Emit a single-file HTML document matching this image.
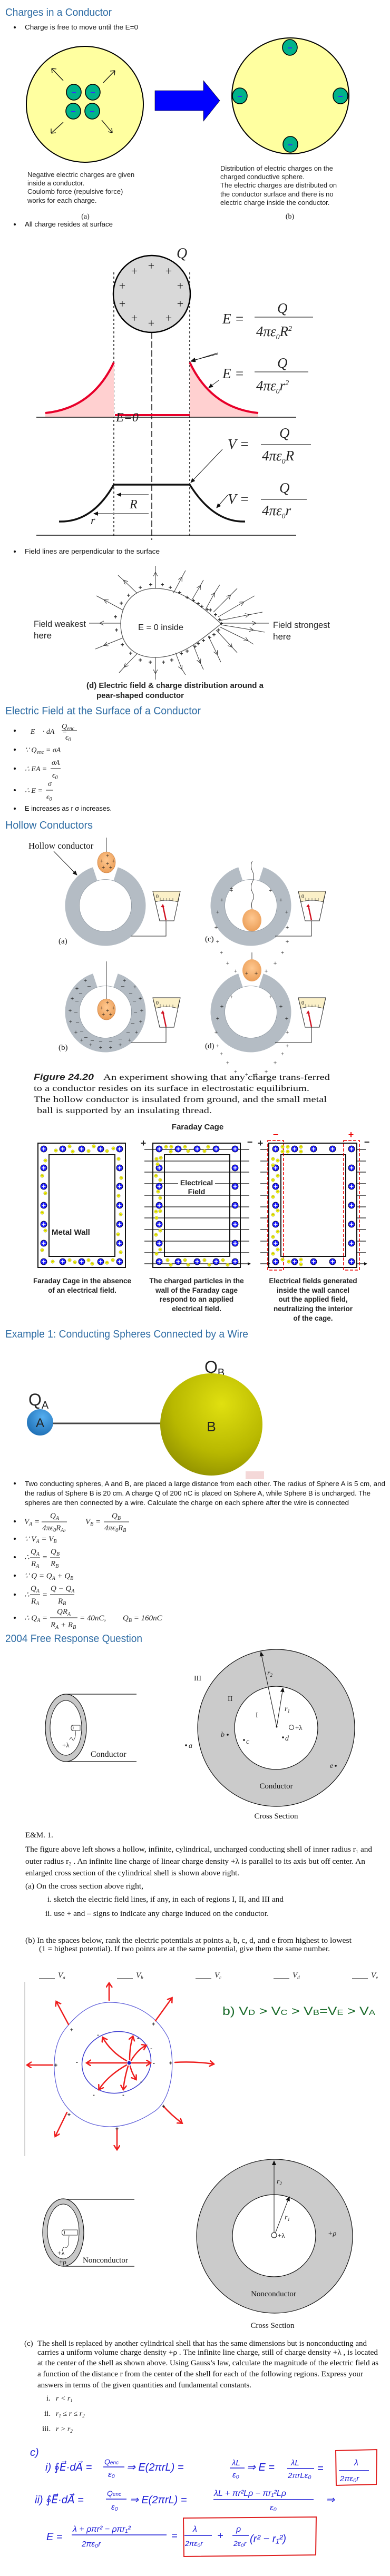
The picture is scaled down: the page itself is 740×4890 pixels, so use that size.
<!DOCTYPE html>
<html><head><meta charset="utf-8">
<style>
html,body{margin:0;padding:0;background:#fff;}
svg{display:block;}
.h{font-family:"Liberation Sans",sans-serif;font-size:20px;fill:#2e6ca4;}
.b{font-family:"Liberation Sans",sans-serif;font-size:12.5px;fill:#111;}
.s{font-family:"Liberation Serif",serif;fill:#111;}
.m{font-family:"Liberation Serif",serif;font-style:italic;fill:#222;}
.a{font-family:"Liberation Sans",sans-serif;fill:#222;}
.hw{font-family:"Liberation Sans",sans-serif;fill:#1a1ad6;font-style:italic;}
</style></head><body>
<svg width="740" height="4890" viewBox="0 0 740 4890" xmlns="http://www.w3.org/2000/svg">
<defs>
<marker id="oa" markerWidth="10" markerHeight="10" refX="7" refY="4" orient="auto" markerUnits="userSpaceOnUse"><path d="M0,0 L8,4 L0,8" fill="none" stroke="#333" stroke-width="1"/></marker>
<marker id="fa" markerWidth="10" markerHeight="10" refX="8" refY="4" orient="auto" markerUnits="userSpaceOnUse"><path d="M0,0 L9,4 L0,8 z" fill="#111"/></marker>
<marker id="ra" markerWidth="14" markerHeight="14" refX="8" refY="6" orient="auto" markerUnits="userSpaceOnUse"><path d="M0,0 L9,6 L0,12" fill="none" stroke="#ee1c1c" stroke-width="2.5"/></marker>
<marker id="dt" markerWidth="6" markerHeight="6" refX="3" refY="3" orient="auto" markerUnits="userSpaceOnUse"><path d="M0,0 L6,3 L0,6z" fill="#111"/></marker>
<g id="pc"><circle r="6" fill="#1a1aff" stroke="#000" stroke-width="0.8"/><path d="M-3.5,0H3.5M0,-3.5V3.5" stroke="#fff" stroke-width="1.6"/></g>
<g id="nc"><circle r="3.2" fill="#ffff00" stroke="#777" stroke-width="0.5"/><path d="M-1.5,0H1.5" stroke="#333" stroke-width="0.7"/></g>
<g id="tc"><ellipse rx="14" ry="15" fill="#00b38a" stroke="#000" stroke-width="1.6"/><path d="M-4,1H4" stroke="#3030ff" stroke-width="2"/></g>
<radialGradient id="gB" cx="0.6" cy="0.3" r="0.8"><stop offset="0" stop-color="#e0e010"/><stop offset="0.6" stop-color="#b8b800"/><stop offset="1" stop-color="#8a8a00"/></radialGradient>
<radialGradient id="gA" cx="0.6" cy="0.3" r="0.8"><stop offset="0" stop-color="#55aef0"/><stop offset="1" stop-color="#1a6ab0"/></radialGradient>
<radialGradient id="gO" cx="0.5" cy="0.4" r="0.7"><stop offset="0" stop-color="#ffc890"/><stop offset="1" stop-color="#e89850"/></radialGradient>
<g id="meter"><path d="M0,0 L52,0 L40,56 L13,56 Z" fill="#fff" stroke="#222" stroke-width="1"/><path d="M0,0 L52,0 L47,20 Q26,14 5,20 Z" fill="#fbf0c8" stroke="#222" stroke-width="0.8"/><text x="6" y="13" class="s" font-size="10">0</text><path d="M14,12V19M20,13V18M26,13V18M32,13V18M38,13V19" stroke="#444" stroke-width="0.7"/><path d="M25,55 L19,27" stroke="#d01020" stroke-width="2.5"/><path d="M15,30 L19,24 L22,30z" fill="#d01020"/></g>
</defs>

<!-- SECTION 1 -->
<text x="10" y="30" class="h" textLength="202" lengthAdjust="spacingAndGlyphs">Charges in a Conductor</text>
<circle cx="28" cy="52" r="2" fill="#111"/>
<text x="47" y="56" class="b" textLength="215" lengthAdjust="spacingAndGlyphs">Charge is free to move until the E=0</text>
<ellipse cx="161" cy="198" rx="111" ry="110" fill="#ffffa0" stroke="#000" stroke-width="2"/>
<use href="#tc" x="140" y="175"/><use href="#tc" x="176" y="175"/><use href="#tc" x="139" y="211"/><use href="#tc" x="175" y="211"/>
<g stroke="#111" stroke-width="1.3" fill="none">
<path d="M120,153 L98,130 M98,130 l9,1 M98,130 l1,9"/>
<path d="M196,157 L218,134 M218,134 l-9,1 M218,134 l-1,9"/>
<path d="M120,232 L97,253 M97,253 l9,-1 M97,253 l0,-9"/>
<path d="M193,228 L213,252 M213,252 l-1,-9 M213,252 l-8,-2"/>
</g>
<path d="M294,172 L386,172 L386,153 L417,191 L386,230 L386,210 L294,210 Z" fill="#0000ff" stroke="#000" stroke-width="0.6"/>
<ellipse cx="551" cy="182" rx="111" ry="110" fill="#ffffa0" stroke="#000" stroke-width="2"/>
<use href="#tc" x="550" y="90"/><use href="#tc" x="455" y="182"/><use href="#tc" x="646" y="182"/><use href="#tc" x="551" y="274"/>
<g class="a" font-size="13">
<text x="52" y="336">Negative electric charges are given</text>
<text x="52" y="352">inside a conductor.</text>
<text x="52" y="368">Coulomb force (repulsive force)</text>
<text x="52" y="385">works for each charge.</text>
<text x="418" y="324">Distribution of electric charges on the</text>
<text x="418" y="340">charged conductive sphere.</text>
<text x="418" y="356">The electric charges are distributed on</text>
<text x="418" y="373">the conductor surface and there is no</text>
<text x="418" y="389">electric charge inside the conductor.</text>
</g>
<text x="162" y="415" class="s" font-size="14" text-anchor="middle">(a)</text>
<text x="550" y="415" class="s" font-size="14" text-anchor="middle">(b)</text>

<!-- SECTION 2 -->
<circle cx="28" cy="426" r="2" fill="#111"/>
<text x="47" y="430" class="b" textLength="167" lengthAdjust="spacingAndGlyphs">All charge resides at surface</text>
<g stroke="#111" stroke-width="1.5" stroke-dasharray="4,4"><path d="M216,517V1020M360,517V1020"/></g>
<path d="M288,631V1025" stroke="#111" stroke-width="1.5" stroke-dasharray="12,5"/>
<ellipse cx="288" cy="558" rx="73" ry="73" fill="#d9d9d9" stroke="#000" stroke-width="2.5"/>
<g class="s" font-size="22" text-anchor="middle">
<text x="287" y="512">+</text><text x="255" y="522">+</text><text x="320" y="522">+</text><text x="232" y="550">+</text><text x="342" y="550">+</text><text x="232" y="584">+</text><text x="342" y="584">+</text><text x="255" y="611">+</text><text x="320" y="611">+</text><text x="287" y="621">+</text>
</g>
<text x="335" y="490" class="m" font-size="28">Q</text>
<path d="M86,784 Q175,775 216,688 L216,792 L86,792 Z" fill="#ffd0d0"/>
<path d="M490,784 Q401,775 360,688 L360,792 L490,792 Z" fill="#ffd0d0"/>
<path d="M86,784 Q175,775 216,688 M490,784 Q401,775 360,688 M218,788 H360" stroke="#e8002a" stroke-width="4" fill="none"/>
<path d="M69,792 H562 M69,1016 H562" stroke="#111" stroke-width="1.5"/>
<text x="220" y="800" class="m" font-size="24">E=0</text>
<g class="m" font-size="27">
<text x="422" y="614">E =</text><text x="526" y="594">Q</text><text x="486" y="638">4πε<tspan font-size="14" dy="6">0</tspan><tspan dy="-6">R</tspan><tspan font-size="14" dy="-10">2</tspan></text>
<text x="422" y="718">E =</text><text x="526" y="698">Q</text><text x="486" y="741">4πε<tspan font-size="14" dy="6">0</tspan><tspan dy="-6">r</tspan><tspan font-size="14" dy="-10">2</tspan></text>
<text x="432" y="852">V =</text><text x="530" y="831">Q</text><text x="497" y="874">4πε<tspan font-size="14" dy="6">0</tspan><tspan dy="-6">R</tspan></text>
<text x="432" y="956">V =</text><text x="530" y="935">Q</text><text x="497" y="978">4πε<tspan font-size="14" dy="6">0</tspan><tspan dy="-6">r</tspan></text>
</g>
<path d="M483,602H594 M483,706H585 M495,844H590 M495,948H582" stroke="#555" stroke-width="1.5"/>
<g stroke="#111" stroke-width="1" marker-end="url(#fa)"><path d="M413,672 L363,685" transform="rotate(0)"/></g>
<path d="M413,670 L362,686" stroke="#111" stroke-width="1" marker-end="url(#fa)"/>
<path d="M415,722 L396,736" stroke="#111" stroke-width="1" marker-end="url(#fa)"/>
<path d="M422,853 L362,916" stroke="#111" stroke-width="1" marker-end="url(#fa)"/>
<path d="M432,940 L411,964" stroke="#111" stroke-width="1" marker-end="url(#fa)"/>
<path d="M112,990 Q175,992 216,920 H360 Q405,992 465,990" stroke="#111" stroke-width="3.5" fill="none"/>
<path d="M282,939 H222" stroke="#888" stroke-width="2" marker-end="url(#fa)"/>
<path d="M282,975 H178" stroke="#888" stroke-width="2" marker-end="url(#fa)"/>
<text x="246" y="965" class="m" font-size="24">R</text>
<text x="172" y="995" class="m" font-size="22">r</text>

<!-- SECTION 3 -->
<circle cx="28" cy="1047" r="2" fill="#111"/>
<text x="47" y="1051" class="b" textLength="256" lengthAdjust="spacingAndGlyphs">Field lines are perpendicular to the surface</text>
<path d="M420,1184 C380,1150 345,1117 295,1117 C250,1117 229,1150 229,1185 C229,1220 250,1248 295,1248 C345,1248 380,1215 420,1184 Z" fill="#fff" stroke="#555" stroke-width="1.3"/>
<g stroke="#333" stroke-width="1" fill="none" marker-mid="url(#oa)">
<polyline points="295,1117 295,1087 295,1074"/>
<polyline points="260,1126 235,1102 224,1092"/>
<polyline points="233,1158 198,1139 183,1131"/>
<polyline points="229,1183 190,1183 169,1183"/>
<polyline points="233,1211 198,1225 181,1232"/>
<polyline points="260,1241 236,1266 226,1277"/>
<polyline points="295,1248 295,1278 295,1290"/>
<polyline points="329,1126 345,1096 352,1083"/>
<polyline points="364,1139 380,1112 386,1101"/>
<polyline points="390,1157 407,1126 417,1110"/>
<polyline points="405,1162 437,1130 450,1117"/>
<polyline points="414,1171 462,1143 483,1131"/>
<polyline points="417,1178 472,1167 498,1162"/>
<polyline points="419,1183 485,1183 510,1183"/>
<polyline points="419,1186 480,1196 502,1200"/>
<polyline points="417,1190 470,1216 481,1223"/>
<polyline points="410,1196 440,1228 450,1239"/>
<polyline points="395,1207 412,1242 419,1257"/>
<polyline points="367,1225 380,1258 386,1271"/>
<polyline points="333,1239 345,1270 352,1281"/>
</g>
<g class="a" font-size="12" font-weight="bold" text-anchor="middle">
<text x="266" y="1119">+</text><text x="286" y="1114">+</text><text x="308" y="1114">+</text><text x="323" y="1119">+</text><text x="244" y="1134">+</text><text x="230" y="1149">+</text><text x="219" y="1175">+</text><text x="221" y="1200">+</text><text x="232" y="1228">+</text><text x="248" y="1244">+</text><text x="266" y="1257">+</text><text x="285" y="1261">+</text><text x="310" y="1261">+</text><text x="326" y="1257">+</text><text x="341" y="1129">+</text><text x="355" y="1138">+</text><text x="367" y="1144">+</text><text x="376" y="1150">+</text><text x="383" y="1155">+</text><text x="393" y="1161">+</text><text x="399" y="1162">+</text><text x="409" y="1171">+</text><text x="417" y="1180">+</text><text x="420" y="1188">+</text><text x="415" y="1200">+</text><text x="406" y="1209">+</text><text x="398" y="1214">+</text><text x="386" y="1220">+</text><text x="376" y="1226">+</text><text x="370" y="1231">+</text><text x="355" y="1240">+</text><text x="344" y="1245">+</text>
</g>
<g class="a" font-size="17">
<text x="64" y="1190" textLength="99" lengthAdjust="spacingAndGlyphs">Field weakest</text><text x="64" y="1212">here</text>
<text x="518" y="1192" textLength="108" lengthAdjust="spacingAndGlyphs">Field strongest</text><text x="518" y="1214">here</text>
<text x="262" y="1196" font-size="16" textLength="86" lengthAdjust="spacingAndGlyphs">E = 0 inside</text>
</g>
<g class="a" font-size="14.5" font-weight="bold">
<text x="164" y="1306" textLength="336" lengthAdjust="spacingAndGlyphs">(d) Electric field &amp; charge distribution around a</text>
<text x="183" y="1325" textLength="166" lengthAdjust="spacingAndGlyphs">pear-shaped conductor</text>
</g>
<text x="10" y="1356" class="h" textLength="371" lengthAdjust="spacingAndGlyphs">Electric Field at the Surface of a Conductor</text>
<g fill="#111"><circle cx="28" cy="1387" r="2"/><circle cx="28" cy="1423" r="2"/><circle cx="28" cy="1459" r="2"/><circle cx="28" cy="1500" r="2"/><circle cx="28" cy="1535" r="2"/></g>
<g class="m" font-size="14">
<text x="47" y="1393">∮<tspan>E⃗ · dA⃗ =</tspan></text>
<text x="117" y="1383">Q<tspan font-size="10" dy="3">enc</tspan></text><path d="M117,1387H146" stroke="#222"/><text x="124" y="1404">ϵ<tspan font-size="10" dy="3">0</tspan></text>
<text x="47" y="1428">∵ Q<tspan font-size="10" dy="3">enc</tspan><tspan dy="-3"> = σA</tspan></text>
<text x="47" y="1464">∴ EA =</text><text x="98" y="1452">σA</text><path d="M96,1459H115" stroke="#222"/><text x="99" y="1476">ϵ<tspan font-size="10" dy="3">0</tspan></text>
<text x="47" y="1505">∴ E =</text><text x="91" y="1492">σ</text><path d="M87,1500H101" stroke="#222"/><text x="88" y="1517">ϵ<tspan font-size="10" dy="3">0</tspan></text>
</g>
<text x="47" y="1539" class="b" textLength="165" lengthAdjust="spacingAndGlyphs">E increases as r σ increases.</text>
<text x="10" y="1573" class="h" textLength="166" lengthAdjust="spacingAndGlyphs">Hollow Conductors</text>

<!-- SECTION 4: hollow conductors -->
<g fill="none" stroke="#b4bcc4" stroke-width="27" stroke-dasharray="356 40">
<circle cx="200" cy="1719" r="63" transform="rotate(-72 200 1719)"/>
<circle cx="476" cy="1719" r="63" transform="rotate(-72 476 1719)"/>
<circle cx="200" cy="1921" r="63" transform="rotate(-72 200 1921)"/>
<circle cx="476" cy="1921" r="63" transform="rotate(-72 476 1921)"/>
</g>
<g fill="none" stroke="#8c959e" stroke-width="0.8">
<circle cx="200" cy="1719" r="49.5"/><circle cx="476" cy="1719" r="49.5"/><circle cx="200" cy="1921" r="49.5"/><circle cx="476" cy="1921" r="49.5"/>
</g>
<rect x="181" y="1636" width="38" height="24" fill="#fff"/><rect x="457" y="1636" width="38" height="24" fill="#fff"/><rect x="181" y="1838" width="38" height="24" fill="#fff"/><rect x="457" y="1838" width="38" height="24" fill="#fff"/>
<text x="54" y="1611" class="s" font-size="17">Hollow conductor</text>
<path d="M102,1616 L146,1661" stroke="#111" stroke-width="1" marker-end="url(#fa)"/>
<path d="M202,1590V1617 M202,1825V1896 M478,1808V1822" stroke="#111" stroke-width="0.8"/>
<path d="M479,1634 q-5,10 0,20 q5,10 0,20 q-5,10 0,20 q5,10 0,15 q-3,8 0,20" stroke="#111" stroke-width="0.8" fill="none"/>
<ellipse cx="202" cy="1637" rx="17" ry="20" fill="url(#gO)" stroke="#c07030" stroke-width="0.6"/>
<ellipse cx="202" cy="1916" rx="17" ry="20" fill="url(#gO)" stroke="#c07030" stroke-width="0.6"/>
<ellipse cx="478" cy="1747" rx="18" ry="21" fill="url(#gO)"/>
<ellipse cx="478" cy="1842" rx="18" ry="21" fill="url(#gO)"/>
<g class="s" font-size="12" text-anchor="middle">
<text x="204" y="1628">+</text><text x="193" y="1638">+</text><text x="204" y="1643">+</text><text x="215" y="1638">+</text><text x="196" y="1650">+</text><text x="210" y="1650">+</text>
<text x="204" y="1907">+</text><text x="193" y="1917">+</text><text x="204" y="1922">+</text><text x="215" y="1917">+</text><text x="196" y="1929">+</text><text x="210" y="1929">+</text>
</g>
<g class="s" font-size="12" text-anchor="middle" fill="#222">
<text x="439" y="1694">+</text><text x="421" y="1712">+</text><text x="413" y="1735">+</text><text x="410" y="1764">+</text><text x="413" y="1791">+</text><text x="420" y="1812">+</text><text x="432" y="1832">+</text><text x="447" y="1847">+</text><text x="468" y="1851">+</text><text x="486" y="1851">+</text><text x="505" y="1847">+</text><text x="522" y="1832">+</text><text x="536" y="1812">+</text><text x="545" y="1791">+</text><text x="545" y="1764">+</text><text x="544" y="1735">+</text><text x="533" y="1712">+</text><text x="513" y="1694">+</text>
</g>
<g class="s" font-size="12" text-anchor="middle">
<text x="439" y="1695" transform="translate(0,-5)">+</text>
<text x="516" y="1697" transform="translate(0,0)"> </text>
</g>
<g class="s" font-size="12" text-anchor="middle">
<text x="439" y="1896">+</text><text x="421" y="1914">+</text><text x="413" y="1937">+</text><text x="410" y="1963">+</text><text x="413" y="1989">+</text><text x="420" y="2004">+</text><text x="432" y="2021">+</text><text x="447" y="2038">+</text><text x="468" y="2043">+</text><text x="486" y="2043">+</text><text x="505" y="2038">+</text><text x="522" y="2021">+</text><text x="536" y="2004">+</text><text x="545" y="1989">+</text><text x="545" y="1963">+</text><text x="544" y="1937">+</text><text x="533" y="1914">+</text><text x="513" y="1896">+</text>
</g>
<g class="s" font-size="12" text-anchor="middle">
<text x="162" y="1865">+</text><text x="146" y="1880">+</text><text x="137" y="1899">+</text><text x="133" y="1922">+</text><text x="134" y="1943">+</text><text x="144" y="1963">+</text><text x="155" y="1978">+</text><text x="172" y="1987">+</text><text x="191" y="1992">+</text><text x="210" y="1992">+</text><text x="228" y="1987">+</text><text x="246" y="1978">+</text><text x="259" y="1963">+</text><text x="267" y="1943">+</text><text x="269" y="1922">+</text><text x="266" y="1899">+</text><text x="256" y="1877">+</text><text x="236" y="1865">+</text>
<text x="169" y="1875">–</text><text x="153" y="1888">–</text><text x="146" y="1903">–</text><text x="144" y="1924">–</text><text x="147" y="1943">–</text><text x="155" y="1960">–</text><text x="163" y="1972">–</text><text x="175" y="1978">–</text><text x="191" y="1980">–</text><text x="210" y="1980">–</text><text x="228" y="1975">–</text><text x="243" y="1962">–</text><text x="252" y="1945">–</text><text x="257" y="1924">–</text><text x="255" y="1903">–</text><text x="248" y="1888">–</text><text x="233" y="1875">–</text>
</g>
<use href="#meter" x="290" y="1692"/><use href="#meter" x="566" y="1692"/><use href="#meter" x="290" y="1894"/><use href="#meter" x="566" y="1894"/>
<path d="M315,1748V1777H248 M591,1748V1777H522 M315,1950V1979H248 M591,1950V1979H522" stroke="#222" stroke-width="1" fill="none"/>
<g class="s" font-size="15"><text x="111" y="1791">(a)</text><text x="389" y="1787">(c)</text><text x="111" y="1993">(b)</text><text x="389" y="1990">(d)</text></g>
<text x="64" y="2050" class="a" font-size="16.5" font-weight="bold" font-style="italic" textLength="114" lengthAdjust="spacingAndGlyphs">Figure 24.20</text>
<g class="s" font-size="16">
<text x="196" y="2050" textLength="430" lengthAdjust="spacingAndGlyphs">An experiment  showing that any charge trans-ferred</text>
<text x="64" y="2071" textLength="523" lengthAdjust="spacingAndGlyphs">to a conductor resides on its  surface in electrostatic equilibrium.</text>
<text x="64" y="2092" textLength="556" lengthAdjust="spacingAndGlyphs">The hollow conductor is insulated from ground, and the small metal</text>
<text x="70" y="2113" textLength="332" lengthAdjust="spacingAndGlyphs">ball is supported by an insulating thread.</text>
</g>
<text x="375" y="2144" class="a" font-size="15" font-weight="bold" text-anchor="middle">Faraday Cage</text>

<!-- Faraday cages -->
<g fill="none" stroke="#111" stroke-width="2">
<rect x="72" y="2170" width="166" height="236"/><rect x="93" y="2192" width="125" height="193"/>
<rect x="290" y="2170" width="166" height="236"/><rect x="312" y="2192" width="124" height="193"/>
<rect x="510" y="2170" width="167" height="236"/><rect x="533" y="2192" width="123" height="193"/>
</g>
<g stroke="#111" stroke-width="1.2" marker-end="url(#dt)">
<path d="M274,2182H473M274,2204H473M274,2225H473M274,2247H338M408,2247H473M274,2269H473M274,2291H473M274,2312H473M274,2334H473M274,2356H473M274,2378H473M274,2399H473"/>
<path d="M494,2182H510M494,2204H510M494,2225H510M494,2247H510M494,2269H510M494,2291H510M494,2312H510M494,2334H510M494,2356H510M494,2378H510M494,2399H510"/>
<path d="M677,2182H694M677,2204H694M677,2225H694M677,2247H694M677,2269H694M677,2291H694M677,2312H694M677,2334H694M677,2356H694M677,2378H694M677,2399H694"/>
</g>
<g class="a" font-size="14" font-weight="bold" text-anchor="middle"><text x="373" y="2143" opacity="0"> </text><text x="373" y="2143" opacity="0"> </text>
<text x="373" y="2142" opacity="0"> </text></g>
<rect x="338" y="2236" width="70" height="30" fill="#fff"/>
<g class="a" font-size="14" font-weight="bold" text-anchor="middle">
<text x="373" y="2250">Electrical</text><text x="373" y="2267">Field</text>
<text x="133" y="2205" opacity="0"> </text>
</g>
<text x="98" y="2344" class="a" font-size="15" font-weight="bold">Metal Wall</text>
<g class="a" font-size="18" font-weight="bold" text-anchor="middle">
<text x="272" y="2176">+</text><text x="474" y="2174">−</text><text x="494" y="2176">+</text><text x="696" y="2174">−</text>
<text x="523" y="2160" fill="#e00">−</text><text x="666" y="2160" fill="#e00">+</text>
</g>
<g fill="none" stroke="#e00" stroke-width="1.6" stroke-dasharray="6,3">
<rect x="508" y="2165" width="30" height="246"/><rect x="652" y="2165" width="30" height="246"/>
</g>
<!-- charges -->
<g>
<use href="#pc" x="83" y="2181"/><use href="#pc" x="119" y="2181"/><use href="#pc" x="155" y="2181"/><use href="#pc" x="191" y="2181"/><use href="#pc" x="227" y="2181"/>
<use href="#pc" x="83" y="2395"/><use href="#pc" x="119" y="2395"/><use href="#pc" x="155" y="2395"/><use href="#pc" x="191" y="2395"/><use href="#pc" x="227" y="2395"/>
<use href="#pc" x="83" y="2217"/><use href="#pc" x="83" y="2252"/><use href="#pc" x="83" y="2288"/><use href="#pc" x="83" y="2324"/><use href="#pc" x="83" y="2360"/>
<use href="#pc" x="227" y="2217"/><use href="#pc" x="227" y="2252"/><use href="#pc" x="227" y="2288"/><use href="#pc" x="227" y="2324"/><use href="#pc" x="227" y="2360"/>
<use href="#nc" x="106" y="2184"/><use href="#nc" x="132" y="2176"/><use href="#nc" x="138" y="2186"/><use href="#nc" x="168" y="2185"/><use href="#nc" x="178" y="2176"/><use href="#nc" x="203" y="2185"/><use href="#nc" x="215" y="2180"/><use href="#nc" x="86" y="2203"/><use href="#nc" x="80" y="2232"/><use href="#nc" x="86" y="2265"/><use href="#nc" x="80" y="2302"/><use href="#nc" x="86" y="2336"/><use href="#nc" x="80" y="2373"/><use href="#nc" x="225" y="2200"/><use href="#nc" x="230" y="2236"/><use href="#nc" x="225" y="2270"/><use href="#nc" x="229" y="2305"/><use href="#nc" x="224" y="2343"/><use href="#nc" x="229" y="2377"/><use href="#nc" x="100" y="2395"/><use href="#nc" x="132" y="2392"/><use href="#nc" x="142" y="2396"/><use href="#nc" x="168" y="2392"/><use href="#nc" x="175" y="2399"/><use href="#nc" x="203" y="2397"/><use href="#nc" x="214" y="2392"/>
<use href="#pc" x="302" y="2181"/><use href="#pc" x="338" y="2181"/><use href="#pc" x="374" y="2181"/><use href="#pc" x="410" y="2181"/><use href="#pc" x="446" y="2181"/>
<use href="#pc" x="302" y="2395"/><use href="#pc" x="338" y="2395"/><use href="#pc" x="374" y="2395"/><use href="#pc" x="410" y="2395"/><use href="#pc" x="446" y="2395"/>
<use href="#pc" x="302" y="2217"/><use href="#pc" x="302" y="2252"/><use href="#pc" x="302" y="2288"/><use href="#pc" x="302" y="2324"/><use href="#pc" x="302" y="2360"/>
<use href="#pc" x="446" y="2217"/><use href="#pc" x="446" y="2252"/><use href="#pc" x="446" y="2288"/><use href="#pc" x="446" y="2324"/><use href="#pc" x="446" y="2360"/>
<use href="#nc" x="315" y="2177"/><use href="#nc" x="325" y="2177"/><use href="#nc" x="324" y="2186"/><use href="#nc" x="351" y="2177"/><use href="#nc" x="357" y="2185"/><use href="#nc" x="388" y="2185"/><use href="#nc" x="395" y="2177"/><use href="#nc" x="297" y="2200"/><use href="#nc" x="305" y="2198"/><use href="#nc" x="299" y="2210"/><use href="#nc" x="296" y="2232"/><use href="#nc" x="304" y="2240"/><use href="#nc" x="300" y="2262"/><use href="#nc" x="304" y="2274"/><use href="#nc" x="296" y="2300"/><use href="#nc" x="304" y="2299"/><use href="#nc" x="297" y="2312"/><use href="#nc" x="304" y="2336"/><use href="#nc" x="296" y="2344"/><use href="#nc" x="304" y="2372"/><use href="#nc" x="297" y="2380"/><use href="#nc" x="318" y="2392"/><use href="#nc" x="324" y="2401"/><use href="#nc" x="351" y="2392"/><use href="#nc" x="357" y="2401"/><use href="#nc" x="388" y="2392"/><use href="#nc" x="397" y="2401"/><use href="#nc" x="423" y="2392"/><use href="#nc" x="432" y="2401"/>
<use href="#pc" x="523" y="2181"/><use href="#pc" x="559" y="2181"/><use href="#pc" x="595" y="2181"/><use href="#pc" x="631" y="2181"/><use href="#pc" x="667" y="2181"/>
<use href="#pc" x="523" y="2395"/><use href="#pc" x="559" y="2395"/><use href="#pc" x="595" y="2395"/><use href="#pc" x="631" y="2395"/><use href="#pc" x="667" y="2395"/>
<use href="#pc" x="523" y="2217"/><use href="#pc" x="523" y="2252"/><use href="#pc" x="523" y="2288"/><use href="#pc" x="523" y="2324"/><use href="#pc" x="523" y="2360"/>
<use href="#pc" x="667" y="2217"/><use href="#pc" x="667" y="2252"/><use href="#pc" x="667" y="2288"/><use href="#pc" x="667" y="2324"/><use href="#pc" x="667" y="2360"/>
<use href="#nc" x="536" y="2177"/><use href="#nc" x="536" y="2186"/><use href="#nc" x="546" y="2177"/><use href="#nc" x="546" y="2186"/><use href="#nc" x="571" y="2177"/><use href="#nc" x="571" y="2186"/><use href="#nc" x="518" y="2200"/><use href="#nc" x="527" y="2203"/><use href="#nc" x="518" y="2212"/><use href="#nc" x="527" y="2232"/><use href="#nc" x="518" y="2240"/><use href="#nc" x="527" y="2262"/><use href="#nc" x="518" y="2272"/><use href="#nc" x="527" y="2298"/><use href="#nc" x="518" y="2306"/><use href="#nc" x="527" y="2338"/><use href="#nc" x="518" y="2348"/><use href="#nc" x="527" y="2372"/><use href="#nc" x="518" y="2380"/><use href="#nc" x="536" y="2391"/><use href="#nc" x="548" y="2395"/><use href="#nc" x="571" y="2391"/><use href="#nc" x="571" y="2400"/>
</g>
<g class="a" font-size="13.5" font-weight="bold" text-anchor="middle">
<text x="156" y="2436">Faraday Cage in the absence</text><text x="156" y="2454">of an electrical field.</text>
<text x="373" y="2436">The charged particles in the</text><text x="373" y="2454">wall of the Faraday cage</text><text x="373" y="2471">respond to an applied</text><text x="373" y="2489">electrical field.</text>
<text x="594" y="2436">Electrical fields generated</text><text x="594" y="2454">inside the wall cancel</text><text x="594" y="2471">out the applied field,</text><text x="594" y="2489">neutralizing the interior</text><text x="594" y="2507">of the cage.</text>
</g>

<!-- Example 1 -->
<text x="10" y="2539" class="h" textLength="461" lengthAdjust="spacingAndGlyphs">Example 1: Conducting Spheres Connected by a Wire</text>
<text x="388" y="2606" class="a" font-size="32">Q<tspan font-size="20" dy="6">B</tspan></text>
<text x="54" y="2668" class="a" font-size="32">Q<tspan font-size="20" dy="6">A</tspan></text>
<path d="M100,2702H306" stroke="#444" stroke-width="3"/>
<circle cx="76" cy="2700" r="25" fill="url(#gA)"/>
<text x="76" y="2709" class="a" font-size="24" text-anchor="middle">A</text>
<ellipse cx="401" cy="2704" rx="97" ry="97" fill="url(#gB)"/>
<text x="401" y="2717" class="a" font-size="26" text-anchor="middle">B</text>
<rect x="466" y="2793" width="35" height="15" fill="#f4d8d8"/>
<circle cx="28" cy="2816" r="2" fill="#111"/>
<g class="b">
<text x="47" y="2821" textLength="684" lengthAdjust="spacingAndGlyphs">Two conducting spheres, A and B, are placed a large distance from each other. The radius of Sphere A is 5 cm, and</text>
<text x="47" y="2839" textLength="656" lengthAdjust="spacingAndGlyphs">the radius of Sphere B is 20 cm. A charge Q of 200 nC is placed on Sphere A, while Sphere B is uncharged. The</text>
<text x="47" y="2857" textLength="615" lengthAdjust="spacingAndGlyphs">spheres are then connected by a wire. Calculate the charge on each sphere after the wire is connected</text>
</g>
<g fill="#111"><circle cx="28" cy="2888" r="2"/><circle cx="28" cy="2921" r="2"/><circle cx="28" cy="2956" r="2"/><circle cx="28" cy="2991" r="2"/><circle cx="28" cy="3027" r="2"/><circle cx="28" cy="3071" r="2"/></g>
<g class="m" font-size="15">
<text x="46" y="2893">V<tspan font-size="10" dy="3">A</tspan><tspan dy="-3"> =</tspan></text>
<text x="95" y="2882">Q<tspan font-size="10" dy="3">A</tspan></text><path d="M79,2889H127" stroke="#222"/><text x="80" y="2905">4πϵ<tspan font-size="10" dy="3">0</tspan><tspan dy="-3">R</tspan><tspan font-size="10" dy="3">A</tspan><tspan dy="-3">,</tspan></text>
<text x="162" y="2893">V<tspan font-size="10" dy="3">B</tspan><tspan dy="-3"> =</tspan></text>
<text x="212" y="2882">Q<tspan font-size="10" dy="3">B</tspan></text><path d="M197,2889H245" stroke="#222"/><text x="198" y="2905">4πϵ<tspan font-size="10" dy="3">0</tspan><tspan dy="-3">R</tspan><tspan font-size="10" dy="3">B</tspan></text>
<text x="46" y="2926">∵ V<tspan font-size="10" dy="3">A</tspan><tspan dy="-3"> = V</tspan><tspan font-size="10" dy="3">B</tspan></text>
<text x="46" y="2961">∴</text><text x="58" y="2950">Q<tspan font-size="10" dy="3">A</tspan></text><path d="M57,2957H76" stroke="#222"/><text x="59" y="2973">R<tspan font-size="10" dy="3">A</tspan></text>
<text x="80" y="2961">=</text><text x="96" y="2950">Q<tspan font-size="10" dy="3">B</tspan></text><path d="M95,2957H114" stroke="#222"/><text x="96" y="2973">R<tspan font-size="10" dy="3">B</tspan></text>
<text x="46" y="2996">∵ Q = Q<tspan font-size="10" dy="3">A</tspan><tspan dy="-3"> + Q</tspan><tspan font-size="10" dy="3">B</tspan></text>
<text x="46" y="3032">∴</text><text x="58" y="3020">Q<tspan font-size="10" dy="3">A</tspan></text><path d="M57,3027H76" stroke="#222"/><text x="59" y="3044">R<tspan font-size="10" dy="3">A</tspan></text>
<text x="80" y="3032">=</text><text x="96" y="3020">Q − Q<tspan font-size="10" dy="3">A</tspan></text><path d="M95,3027H141" stroke="#222"/><text x="110" y="3044">R<tspan font-size="10" dy="3">B</tspan></text>
<text x="46" y="3076">∴ Q<tspan font-size="10" dy="3">A</tspan><tspan dy="-3"> =</tspan></text>
<text x="108" y="3064">QR<tspan font-size="10" dy="3">A</tspan></text><path d="M95,3071H147" stroke="#222"/><text x="96" y="3089">R<tspan font-size="10" dy="3">A</tspan><tspan dy="-3"> + R</tspan><tspan font-size="10" dy="3">B</tspan></text>
<text x="151" y="3076">= 40nC,</text>
<text x="233" y="3076">Q<tspan font-size="10" dy="3">B</tspan><tspan dy="-3"> = 160nC</tspan></text>
</g>
<text x="10" y="3117" class="h" textLength="260" lengthAdjust="spacingAndGlyphs">2004 Free Response Question</text>

<!-- FRQ figure 1 -->
<path d="M125,3216H259 M125,3344H259" stroke="#111" stroke-width="1.2"/>
<ellipse cx="125" cy="3280" rx="39" ry="64" fill="#c8c8c8" stroke="#111" stroke-width="1.2"/>
<ellipse cx="125" cy="3280" rx="30" ry="52" fill="#fff" stroke="#111" stroke-width="1"/>
<path d="M137,3275H152V3285H137" fill="#fff" stroke="#111" stroke-width="0.8"/><ellipse cx="137" cy="3280" rx="2" ry="5" fill="#fff" stroke="#111" stroke-width="0.8"/>
<path d="M132,3303 q3,-8 5,-2 q2,6 5,-2 q2,-5 1,-14" stroke="#111" stroke-width="0.7" fill="none"/>
<text x="118" y="3317" class="s" font-size="13">+λ</text>
<text x="172" y="3335" class="s" font-size="16">Conductor</text>
<circle cx="524" cy="3280" r="149" fill="#cbcbcb" stroke="#111" stroke-width="1.2"/>
<circle cx="524" cy="3280" r="79" fill="#fff" stroke="#111" stroke-width="1.2"/>
<path d="M525,3278 L495,3136" stroke="#111" stroke-width="1" marker-end="url(#fa)"/>
<path d="M525,3278 L537,3204" stroke="#111" stroke-width="1" marker-end="url(#fa)"/>
<circle cx="525" cy="3278" r="1.5" fill="#111"/>
<g class="m" font-size="14">
<text x="507" y="3180">r<tspan font-size="9" dy="3">2</tspan></text><text x="540" y="3248">r<tspan font-size="9" dy="3">1</tspan></text>
</g>
<g class="s" font-size="14"><text x="368" y="3190">III</text><text x="432" y="3229">II</text><text x="485" y="3260">I</text></g>
<circle cx="553" cy="3279" r="4.5" fill="#fff" stroke="#111"/><text x="560" y="3284" class="s" font-size="13">+λ</text>
<g fill="#111"><circle cx="353" cy="3313" r="1.8"/><circle cx="432" cy="3293" r="1.8"/><circle cx="463" cy="3303" r="1.8"/><circle cx="537" cy="3298" r="1.8"/><circle cx="637" cy="3352" r="1.8"/></g>
<g class="m" font-size="14"><text x="358" y="3318">a</text><text x="419" y="3297">b</text><text x="467" y="3310">c</text><text x="541" y="3304">d</text><text x="626" y="3356">e</text></g>
<text x="524" y="3395" class="s" font-size="15" text-anchor="middle">Conductor</text>
<text x="524" y="3452" class="s" font-size="15" text-anchor="middle">Cross Section</text>
<g class="s" font-size="15">
<text x="48" y="3488">E&amp;M. 1.</text>
<text x="48" y="3515" textLength="658" lengthAdjust="spacingAndGlyphs">The figure above left shows a hollow, infinite, cylindrical, uncharged conducting shell of inner radius  r₁  and</text>
<text x="48" y="3538" textLength="645" lengthAdjust="spacingAndGlyphs">outer radius  r₂ . An infinite line charge of linear charge density  +λ  is parallel to its axis but off center. An</text>
<text x="48" y="3560" textLength="406" lengthAdjust="spacingAndGlyphs">enlarged cross section of the cylindrical shell is shown above right.</text>
<text x="48" y="3585" textLength="224" lengthAdjust="spacingAndGlyphs">(a)  On the cross section above right,</text>
<text x="90" y="3610" textLength="448" lengthAdjust="spacingAndGlyphs">i.  sketch the electric field lines, if any, in each of regions I, II, and III and</text>
<text x="86" y="3637" textLength="424" lengthAdjust="spacingAndGlyphs">ii.  use + and – signs to indicate any charge induced on the conductor.</text>
<text x="48" y="3688" textLength="619" lengthAdjust="spacingAndGlyphs">(b)  In the spaces below, rank the electric potentials at points  a,  b,  c,  d, and  e  from highest to lowest</text>
<text x="74" y="3704" textLength="552" lengthAdjust="spacingAndGlyphs">(1 =  highest potential). If two points are at the same potential, give them the same number.</text>
</g>
<g class="m" font-size="15">
<path d="M74,3756H104 M222,3756H252 M371,3756H401 M519,3756H549 M668,3756H698" stroke="#111"/>
<text x="110" y="3754">V<tspan font-size="9" dy="3">a</tspan></text><text x="258" y="3754">V<tspan font-size="9" dy="3">b</tspan></text><text x="407" y="3754">V<tspan font-size="9" dy="3">c</tspan></text><text x="555" y="3754">V<tspan font-size="9" dy="3">d</tspan></text><text x="704" y="3754">V<tspan font-size="9" dy="3">e</tspan></text>
</g>
<!-- handwritten -->
<path d="M47,3762V4093" stroke="#aaa" stroke-width="1"/>
<path d="M205,3801 C260,3800 300,3830 320,3870 C335,3920 325,3990 290,4010 C260,4030 230,4038 205,4037 C160,4035 125,4010 110,3970 C98,3930 100,3880 125,3850 C145,3825 170,3803 205,3801 Z" fill="none" stroke="#5a5ad8" stroke-width="1.2"/>
<ellipse cx="221" cy="3915" rx="66" ry="58" fill="none" stroke="#3a3ad0" stroke-width="1.5" transform="rotate(-15 221 3915)"/>
<circle cx="245" cy="3916" r="3.5" fill="#2020c0"/>
<g stroke="#ee1c1c" stroke-width="2.5" fill="none" marker-end="url(#ra)" stroke-linecap="round">
<path d="M240,3916H165"/><path d="M250,3916H285"/><path d="M240,3912 Q210,3895 195,3868"/><path d="M246,3910 Q246,3885 252,3866"/><path d="M249,3911 Q262,3890 277,3883"/><path d="M240,3920 Q205,3940 188,3966"/><path d="M243,3922 Q236,3945 234,3966"/><path d="M247,3922 Q250,3935 258,3947"/>
<path d="M100,3920H52"/><path d="M332,3915 Q370,3913 405,3918"/><path d="M207,3797V3765"/><path d="M130,3843 L107,3800"/><path d="M295,3836 L326,3793"/><path d="M127,4010 L105,4055"/><path d="M222,4041V4080"/><path d="M310,3998 Q325,4015 345,4030"/>
</g>
<g fill="#4040e0" class="a" font-size="11" font-weight="bold" text-anchor="middle">
<text x="106" y="3924">+</text><text x="136" y="3857">+</text><text x="291" y="3846">+</text><text x="324" y="3920">+</text><text x="310" y="4002">+</text><text x="222" y="4045">+</text><text x="131" y="4018">+</text>
<text x="186" y="3866">-</text><text x="262" y="3872">-</text><text x="287" y="3892">-</text><text x="146" y="3918">-</text><text x="292" y="3920">-</text><text x="268" y="3955">-</text><text x="234" y="3980">-</text><text x="178" y="3980">-</text>
</g>
<text x="422" y="3825" font-family="Liberation Sans,sans-serif" font-size="22" fill="#1a6b2a" textLength="290" lengthAdjust="spacingAndGlyphs">b)  V<tspan font-size="15">D</tspan> &gt; V<tspan font-size="15">C</tspan> &gt; V<tspan font-size="15">B</tspan>=V<tspan font-size="15">E</tspan> &gt; V<tspan font-size="15">A</tspan></text>

<!-- FRQ figure 2 -->
<path d="M120,4175H255 M120,4302H255" stroke="#111" stroke-width="1.2"/>
<ellipse cx="120" cy="4238" rx="39" ry="64" fill="#c8c8c8" stroke="#111" stroke-width="1.2"/>
<ellipse cx="120" cy="4236" rx="30" ry="52" fill="#fff" stroke="#111" stroke-width="1"/>
<path d="M120,4233H147V4243H120" fill="#fff" stroke="#111" stroke-width="0.8"/><ellipse cx="120" cy="4238" rx="2.5" ry="5" fill="#fff" stroke="#111" stroke-width="0.8"/>
<path d="M118,4272 q2,-8 6,-6 q5,2 6,-8 l1,-14" stroke="#111" stroke-width="0.7" fill="none"/>
<text x="109" y="4281" class="s" font-size="13">+λ</text>
<text x="112" y="4298" class="s" font-size="13">+ρ</text>
<text x="157" y="4295" class="s" font-size="15">Nonconductor</text>
<ellipse cx="521" cy="4245" rx="148" ry="146" fill="#cbcbcb" stroke="#111" stroke-width="1.2"/>
<ellipse cx="520" cy="4244" rx="79" ry="78" fill="#fff" stroke="#111" stroke-width="1.2"/>
<path d="M520,4240V4102" stroke="#111" stroke-width="1" marker-end="url(#fa)"/>
<path d="M522,4240 L549,4170" stroke="#111" stroke-width="1" marker-end="url(#fa)"/>
<circle cx="520" cy="4243" r="5" fill="#fff" stroke="#111"/><text x="527" y="4248" class="s" font-size="13">+λ</text>
<g class="m" font-size="14"><text x="525" y="4145">r<tspan font-size="9" dy="3">2</tspan></text><text x="540" y="4213">r<tspan font-size="9" dy="3">1</tspan></text><text x="622" y="4244">+ρ</text></g>
<text x="519" y="4359" class="s" font-size="15" text-anchor="middle">Nonconductor</text>
<text x="517" y="4419" class="s" font-size="15" text-anchor="middle">Cross Section</text>
<g class="s" font-size="15">
<text x="46" y="4453">(c)</text>
<text x="71" y="4453" textLength="625" lengthAdjust="spacingAndGlyphs">The shell is replaced by another cylindrical shell that has the same dimensions but is nonconducting and</text>
<text x="71" y="4470" textLength="646" lengthAdjust="spacingAndGlyphs">carries a uniform volume charge density  +ρ . The infinite line charge, still of charge density  +λ , is located</text>
<text x="71" y="4490" textLength="647" lengthAdjust="spacingAndGlyphs">at the center of the shell as shown above. Using Gauss’s law, calculate the magnitude of the electric field as</text>
<text x="71" y="4511" textLength="618" lengthAdjust="spacingAndGlyphs">a function of the distance  r from the center of the shell for each of the following regions. Express your</text>
<text x="71" y="4532" textLength="406" lengthAdjust="spacingAndGlyphs">answers in terms of the given quantities and fundamental constants.</text>
<text x="88" y="4557">i.</text><text x="84" y="4586">ii.</text><text x="80" y="4615">iii.</text>
</g>
<g class="m" font-size="14">
<text x="106" y="4557">r &lt; r<tspan font-size="9" dy="3">1</tspan></text>
<text x="106" y="4586">r<tspan font-size="9" dy="3">1</tspan><tspan dy="-3"> ≤ r ≤ r</tspan><tspan font-size="9" dy="3">2</tspan></text>
<text x="106" y="4615">r &gt; r<tspan font-size="9" dy="3">2</tspan></text>
</g>
<!-- handwritten c -->
<g class="hw" font-size="20">
<text x="57" y="4662">c)</text>
<text x="86" y="4690">i)  ∮E⃗·dA⃗ =</text>
<text x="198" y="4678" font-size="14">Q<tspan font-size="10">enc</tspan></text><path d="M196,4683H236" stroke="#1a1ad6" stroke-width="1.5"/><text x="205" y="4702" font-size="15">ε₀</text>
<text x="240" y="4690">⇒ E(2πrL) =</text>
<text x="440" y="4680" font-size="15">λL</text><path d="M436,4685H464" stroke="#1a1ad6" stroke-width="1.5"/><text x="441" y="4703" font-size="15">ε₀</text>
<text x="468" y="4690">⇒ E =</text>
<text x="552" y="4680" font-size="15">λL</text><path d="M545,4686H596" stroke="#1a1ad6" stroke-width="1.5"/><text x="546" y="4704" font-size="15">2πrLε₀</text>
<text x="602" y="4692">=</text>
<text x="672" y="4680" font-size="16">λ</text><path d="M643,4690H700" stroke="#1a1ad6" stroke-width="1.5"/><text x="645" y="4710" font-size="15">2πε₀r</text>
<text x="66" y="4752">ii)  ∮E⃗·dA⃗ =</text>
<text x="203" y="4738" font-size="14">Q<tspan font-size="10">enc</tspan></text><path d="M201,4744H240" stroke="#1a1ad6" stroke-width="1.5"/><text x="211" y="4764" font-size="15">ε₀</text>
<text x="246" y="4752">⇒ E(2πrL) =</text>
<text x="406" y="4738" font-size="16">λL + πr²Lρ − πr₁²Lρ</text><path d="M405,4745H595" stroke="#1a1ad6" stroke-width="1.5"/><text x="512" y="4765" font-size="15">ε₀</text>
<text x="618" y="4752">⇒</text>
<text x="88" y="4822">E =</text>
<text x="138" y="4806" font-size="16">λ + ρπr² − ρπr₁²</text><path d="M136,4812H316" stroke="#1a1ad6" stroke-width="1.5"/><text x="155" y="4834" font-size="15">2πε₀r</text>
<text x="325" y="4820">=</text>
<text x="366" y="4806" font-size="16">λ</text><path d="M350,4813H402" stroke="#1a1ad6" stroke-width="1.5"/><text x="351" y="4833" font-size="14">2πε₀r</text>
<text x="412" y="4820">+</text>
<text x="448" y="4806" font-size="16">ρ</text><path d="M441,4813H472" stroke="#1a1ad6" stroke-width="1.5"/><text x="443" y="4833" font-size="14">2ε₀r</text>
<text x="474" y="4826">(r² − r₁²)</text>
</g>
<path d="M637,4652 L715,4650 L714,4716 L638,4718 Z" fill="none" stroke="#e02020" stroke-width="2"/>
<path d="M348,4780 L600,4778 L599,4850 L349,4853 Z" fill="none" stroke="#e02020" stroke-width="2"/>
</svg>
</body></html>
